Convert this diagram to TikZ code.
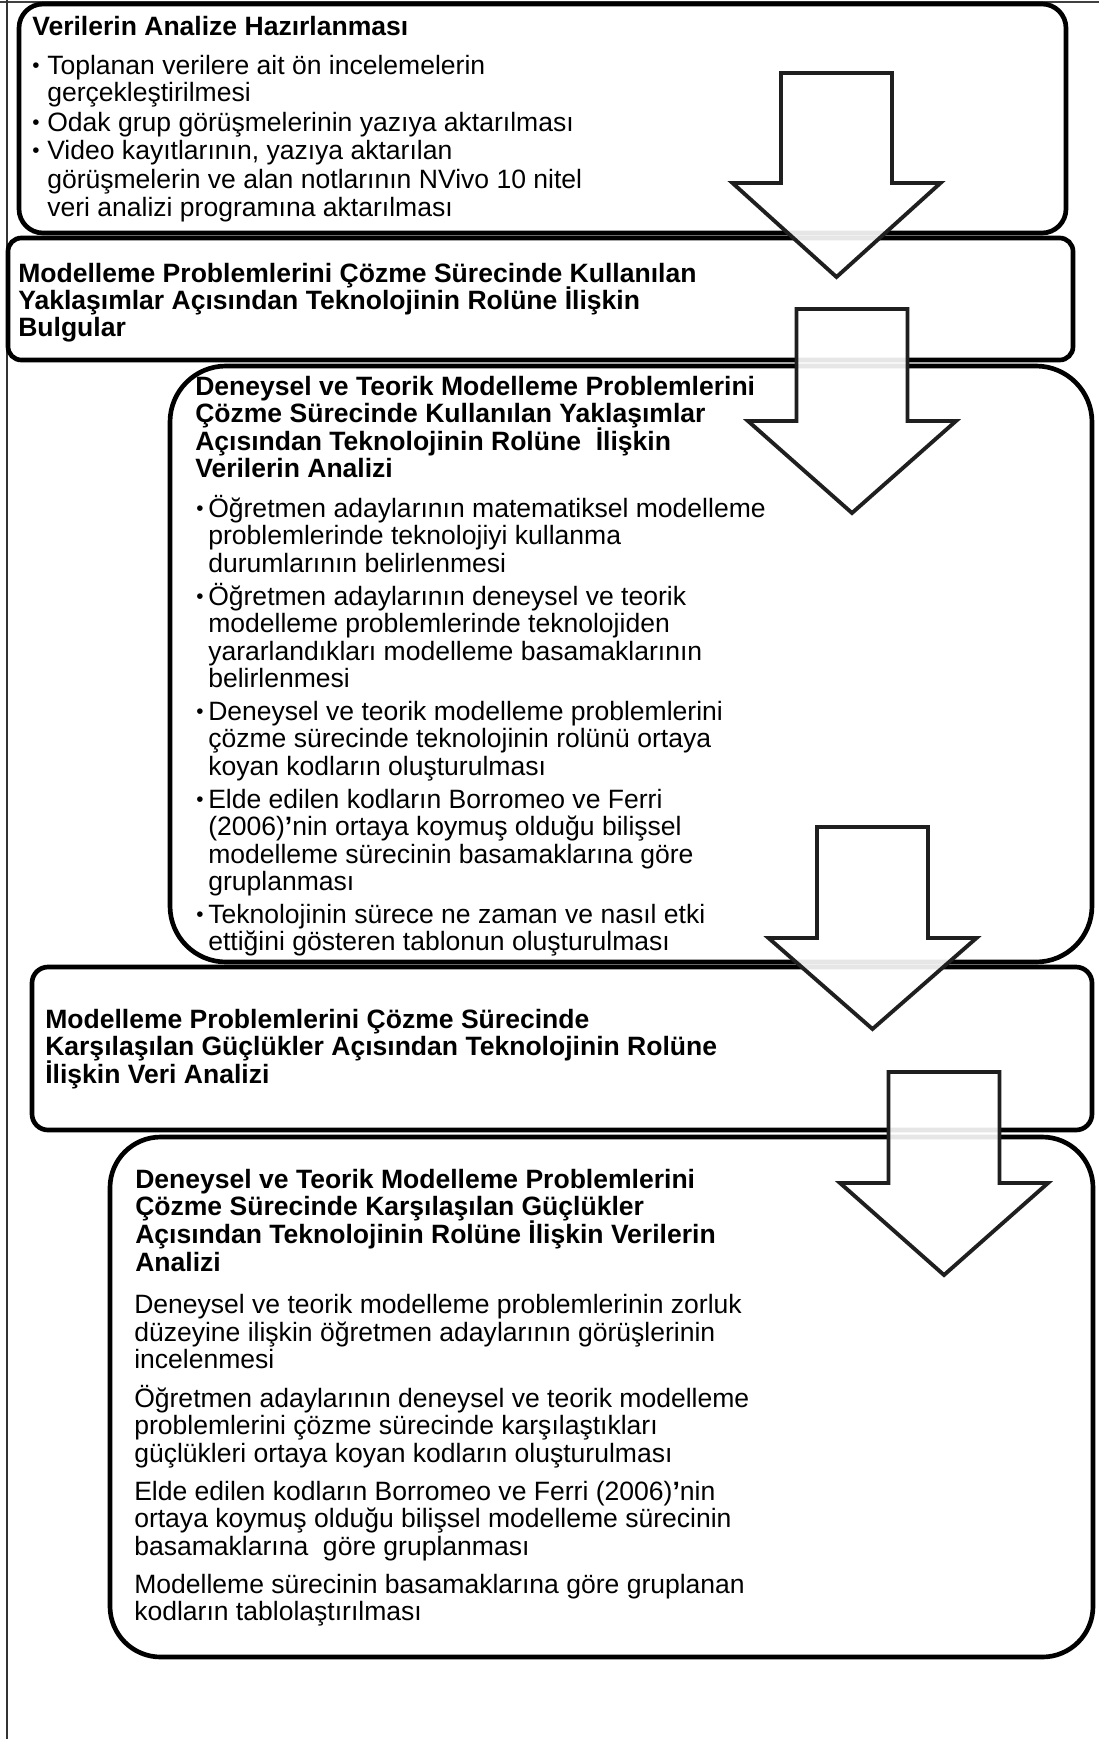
\documentclass[tikz,border=0pt]{standalone}
\usepackage{fontspec}
\setmainfont{Liberation Sans}
\newcommand\tline[5]{\node[#1] (#2) at (#3,#4) {#5};}
\newcommand\barrow[4]{% cx, top, shoulder, tip
  \draw[blockarrow] (#1-55.5,#2) -- (#1+55.5,#2) -- (#1+55.5,#3) -- (#1+104,#3)
    -- (#1,#4) -- (#1-104,#3) -- (#1-55.5,#3) -- cycle;}
\begin{document}
\begin{tikzpicture}[x=0.75pt,y=-0.75pt,
  boxline/.style={line width=3.5pt, draw=black, fill=white},
  blockarrow/.style={line width=2.9pt, draw=black!88, fill=white, fill opacity=0.9, line join=miter},
  txt/.style={inner sep=0pt, anchor=base west, font=\fontsize{19.9}{20}\selectfont},
  ttl/.style={txt, font=\fontsize{19.9}{20}\selectfont\bfseries},
  bul/.style={inner sep=0pt, anchor=base west, font=\fontsize{15.5}{15.5}\selectfont}]
\useasboundingbox (0,0) rectangle (1099,1739);
\fill[white] (0,0) rectangle (1099,1739);
% page frame
\draw[line width=1.1pt, black!75] (0,2) -- (1099,2);
\draw[line width=0.9pt, black!80] (7,0) -- (7,1739);
% boxes
\draw[boxline, rounded corners=18pt] (19,4) rectangle (1066,233);
\draw[boxline, rounded corners=10pt] (8,238) rectangle (1073,360);
\draw[boxline, rounded corners=42pt] (170,366) rectangle (1092,962);
\draw[boxline, rounded corners=12pt] (32,967) rectangle (1092,1130);
\draw[boxline, rounded corners=38pt] (110,1137) rectangle (1093,1657);
% box 1
\tline{ttl}{t1}{32}{35}{Verilerin Analize Hazırlanması}
\tline{bul}{b1a}{32}{72}{•}
\tline{txt}{t1a}{47}{74}{Toplanan verilere ait ön incelemelerin}
\tline{txt}{t1b}{47}{101}{gerçekleştirilmesi}
\tline{bul}{b1b}{32}{129}{•}
\tline{txt}{t1c}{47}{131}{Odak grup görüşmelerinin yazıya aktarılması}
\tline{bul}{b1c}{32}{157}{•}
\tline{txt}{t1d}{47}{159}{Video kayıtlarının, yazıya aktarılan}
\tline{txt}{t1e}{47}{188}{görüşmelerin ve alan notlarının NVivo 10 nitel}
\tline{txt}{t1f}{47}{216}{veri analizi programına aktarılması}
% box 2
\tline{ttl}{t2a}{18}{282}{Modelleme Problemlerini Çözme Sürecinde Kullanılan}
\tline{ttl}{t2b}{18}{309}{Yaklaşımlar Açısından Teknolojinin Rolüne İlişkin}
\tline{ttl}{t2c}{18}{336}{Bulgular}
% box 3
\tline{ttl}{t3a}{195}{395}{Deneysel ve Teorik Modelleme Problemlerini}
\tline{ttl}{t3b}{195}{422}{Çözme Sürecinde Kullanılan Yaklaşımlar}
\tline{ttl}{t3c}{195}{450}{Açısından Teknolojinin Rolüne\ \ İlişkin}
\tline{ttl}{t3d}{195}{477}{Verilerin Analizi}
\tline{bul}{b3a}{196}{515}{•}
\tline{txt}{t3e}{208}{517}{Öğretmen adaylarının matematiksel modelleme}
\tline{txt}{t3f}{208}{544}{problemlerinde teknolojiyi kullanma}
\tline{txt}{t3g}{208}{572}{durumlarının belirlenmesi}
\tline{bul}{b3b}{196}{603}{•}
\tline{txt}{t3h}{208}{605}{Öğretmen adaylarının deneysel ve teorik}
\tline{txt}{t3i}{208}{632}{modelleme problemlerinde teknolojiden}
\tline{txt}{t3j}{208}{660}{yararlandıkları modelleme basamaklarının}
\tline{txt}{t3k}{208}{687}{belirlenmesi}
\tline{bul}{b3c}{196}{718}{•}
\tline{txt}{t3l}{208}{720}{Deneysel ve teorik modelleme problemlerini}
\tline{txt}{t3m}{208}{747}{çözme sürecinde teknolojinin rolünü ortaya}
\tline{txt}{t3n}{208}{775}{koyan kodların oluşturulması}
\tline{bul}{b3d}{196}{806}{•}
\tline{txt}{t3o}{208}{808}{Elde edilen kodların Borromeo ve Ferri}
\tline{txt}{t3p}{208}{835}{(2006)\textbf{’}nin ortaya koymuş olduğu bilişsel}
\tline{txt}{t3q}{208}{863}{modelleme sürecinin basamaklarına göre}
\tline{txt}{t3r}{208}{890}{gruplanması}
\tline{bul}{b3e}{196}{921}{•}
\tline{txt}{t3s}{208}{923}{Teknolojinin sürece ne zaman ve nasıl etki}
\tline{txt}{t3t}{208}{950}{ettiğini gösteren tablonun oluşturulması}
% box 4
\tline{ttl}{t4a}{45}{1028}{Modelleme Problemlerini Çözme Sürecinde}
\tline{ttl}{t4b}{45}{1055}{Karşılaşılan Güçlükler Açısından Teknolojinin Rolüne}
\tline{ttl}{t4c}{45}{1083}{İlişkin Veri Analizi}
% box 5
\tline{ttl}{t5a}{135}{1188}{Deneysel ve Teorik Modelleme Problemlerini}
\tline{ttl}{t5b}{135}{1215}{Çözme Sürecinde Karşılaşılan Güçlükler}
\tline{ttl}{t5c}{135}{1243}{Açısından Teknolojinin Rolüne İlişkin Verilerin}
\tline{ttl}{t5d}{135}{1271}{Analizi}
\tline{txt}{t5e}{134}{1313}{Deneysel ve teorik modelleme problemlerinin zorluk}
\tline{txt}{t5f}{134}{1341}{düzeyine ilişkin öğretmen adaylarının görüşlerinin}
\tline{txt}{t5g}{134}{1368}{incelenmesi}
\tline{txt}{t5h}{134}{1407}{Öğretmen adaylarının deneysel ve teorik modelleme}
\tline{txt}{t5i}{134}{1434}{problemlerini çözme sürecinde karşılaştıkları}
\tline{txt}{t5j}{134}{1462}{güçlükleri ortaya koyan kodların oluşturulması}
\tline{txt}{t5k}{134}{1500}{Elde edilen kodların Borromeo ve Ferri (2006)\textbf{’}nin}
\tline{txt}{t5l}{134}{1527}{ortaya koymuş olduğu bilişsel modelleme sürecinin}
\tline{txt}{t5m}{134}{1555}{basamaklarına\ \ göre gruplanması}
\tline{txt}{t5n}{134}{1593}{Modelleme sürecinin basamaklarına göre gruplanan}
\tline{txt}{t5o}{134}{1620}{kodların tablolaştırılması}
% block arrows
\barrow{836.5}{73}{183}{277}
\barrow{852}{309}{421}{513}
\barrow{872.5}{827}{938}{1029}
\barrow{944}{1072}{1183}{1275}
\end{tikzpicture}
\end{document}
